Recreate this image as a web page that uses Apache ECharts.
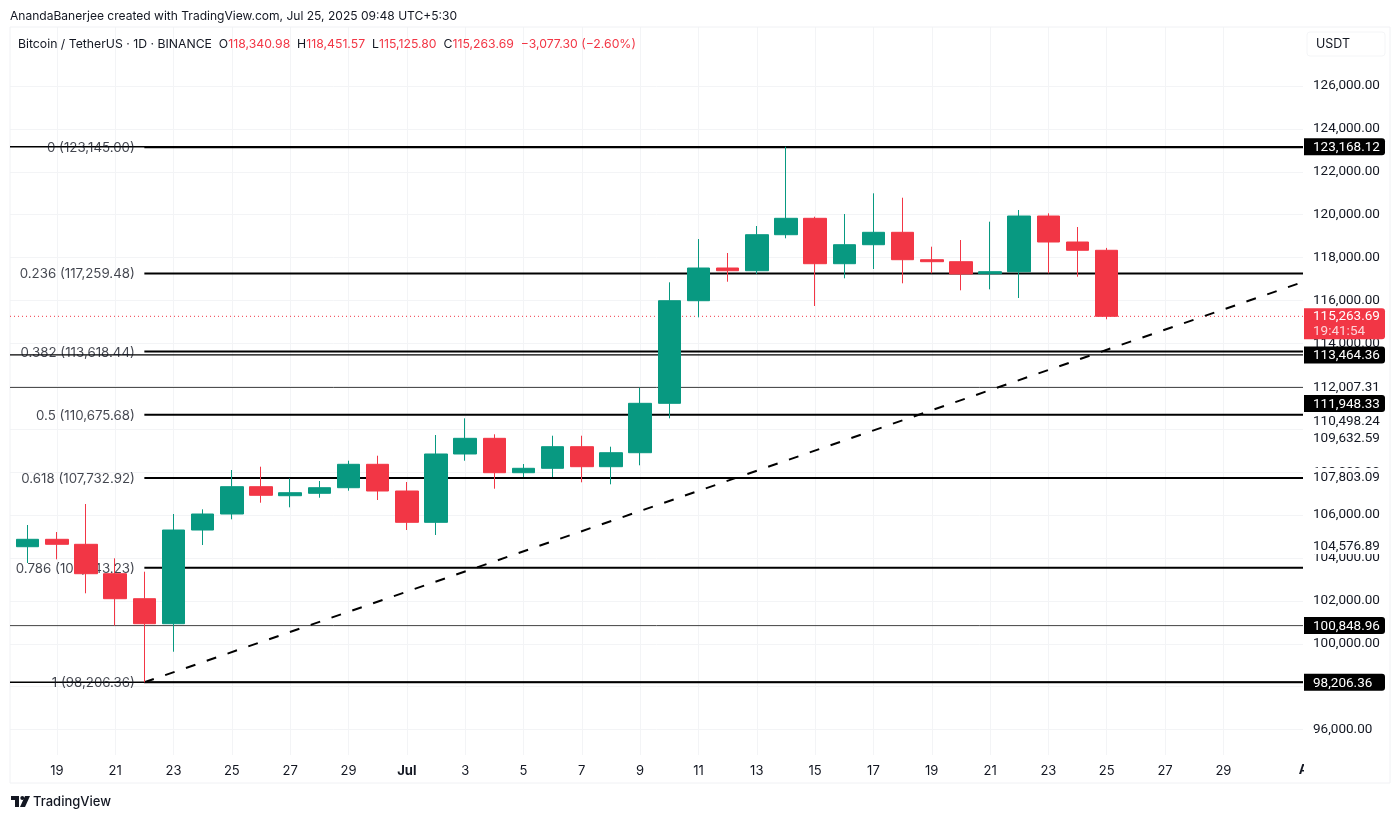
<!DOCTYPE html>
<html>
<head>
<meta charset="utf-8">
<title>BTCUSDT</title>
<style>
html,body{margin:0;padding:0;background:#fff}
#main{width:1400px;height:819px}
</style>
</head>
<body>
<div id="main"></div>
<script src="https://cdn.jsdelivr.net/npm/echarts@6/dist/echarts.min.js"></script>
<script>
// one candle a day, 18 Jun to 25 Jul 2025
const open = [104526,104871,104638,103268,102103,100938,105304,106050,107323,106903,107015,107276,108367,107122,105663,108847,109578,107975,108180,109187,108255,108907,111209,115991,117515,117389,119067,119831,117715,118601,119179,117902,117809,117249,117343,119938,118727,118340.98];
const close = [104871,104638,103268,102103,100938,105304,106050,107323,106922,107043,107276,108367,107122,105663,108847,109578,107975,108180,109187,108255,108907,111209,115991,117515,117389,119067,119831,117715,118601,119179,117902,117809,117235,117343,119938,118727,118341,115263.69];
const low = [103767,103939,102355,100845,98206,99633,104605,105803,106577,106363,106810,107136,106703,105304,105072,108534,107229,107775,107775,107528,107434,108320,110510,115217,116876,117235,118899,115744,117035,117468,116802,117268,116476,116522,116117,117268,117109,115125.80];
const high = [105538,105211,106516,103986,103361,106050,106269,108101,108255,107714,107588,108534,108767,107542,109732,110510,109765,108380,109699,109699,109187,111936,116848,118866,118214,119472,123168,119906,120032,120996,120791,118508,118820,119673,120218,120064,119426,118451.57];

// x axis, day number counted from 18 Jun
const xTickDays = [1,3,5,7,9,11,13,15,17,19,21,23,25,27,29,31,33,35,37,39,41];
const xTickLabels = ['19','21','23','25','27','29','Jul','3','5','7','9','11','13','15','17','19','21','23','25','27','29'];

// price scale
const gridPrices = [96000,98000,100000,102000,104000,106000,108000,110000,112000,114000,116000,118000,120000,122000,124000,126000];
const shownPrices = [96000,100000,102000,104000,106000,108000,114000,116000,118000,120000,122000,124000,126000];
const plainLevels = [112007.31,110498.24,109632.59,107803.09,104576.89];
const tagLevels = [123168.12,113464.36,111948.33,100848.96,98206.36];
const lastPrice = 115263.69;
const countdown = '19:41:54';

// fibonacci drawing
const fibRatios = ['0','0.236','0.382','0.5','0.618','0.786','1'];
const fibPrices = [123145.00,117259.48,113618.44,110675.68,107732.92,103543.23,98206.36];
const fibStartDay = 4;
const trendPrices = [98206.36,116863];

const GREEN = '#089981', RED = '#F23645', INK = '#131722', FRAME = '#f0f1f4';
const FONT = 'Inter, Roboto, sans-serif', PRICE_FONT = 'Roboto, sans-serif';
const X_MIN = -0.607, X_MAX = 43.73;

const fmt = v => v.toLocaleString('en-US',{minimumFractionDigits:2,maximumFractionDigits:2});

let series = [];
// thin full width lines
for (const p of tagLevels) {
    let strong = p===123168.12 || p===113464.36 || p===98206.36;
    series.push({
        type:'line', z:1, silent:true, symbol:'none',
        lineStyle:{color:strong?'#000':'#444',width:strong?1.4:1},
        data:[[X_MIN,p],[X_MAX,p]]
    });
}
series.push({
    type:'line', z:1, silent:true, symbol:'none',
    lineStyle:{color:RED,width:1,type:[1,3]},
    data:[[X_MIN,lastPrice],[X_MAX,lastPrice]]
});
// fib levels
for (const p of fibPrices) {
    series.push({
        type:'line', z:2, silent:true, symbol:'none',
        lineStyle:{color:'#000',width:2},
        data:[[fibStartDay,p],[X_MAX,p]]
    });
}
// their labels, left of the start point and under the candles
series.push({
    type:'scatter', z:2, silent:true, symbolSize:1,
    itemStyle:{color:'transparent'},
    label:{
        show:true, position:'left', distance:9, offset:[0,1],
        color:INK, fontFamily:FONT, fontSize:13.3,
        formatter:o=>fibRatios[o.dataIndex]+' ('+fmt(fibPrices[o.dataIndex])+')'
    },
    data:fibPrices.map(p=>[fibStartDay,p])
});
series.push({
    type:'line', z:2, silent:true, symbol:'none',
    lineStyle:{color:'#000',width:2,type:[10,12]},
    data:[[fibStartDay,trendPrices[0]],[X_MAX,trendPrices[1]]]
});
series.push({
    type:'candlestick', z:5, barWidth:23,
    itemStyle:{color:GREEN,color0:RED,borderColor:GREEN,borderColor0:RED,borderWidth:1},
    data:open.map((o,i)=>[i,o,close[i],low[i],high[i]])
});

let option = {
    animation:false,
    backgroundColor:'#fff',
    grid:{left:10,right:97,top:27,bottom:64},
    xAxis:{
        type:'value', min:X_MIN, max:X_MAX,
        axisLine:{show:false},
        axisTick:{show:false,customValues:xTickDays},
        splitLine:{show:true,lineStyle:{color:'#f3f4f6',width:1}},
        axisLabel:{
            customValues:xTickDays, margin:10, hideOverlap:false,
            color:INK, fontFamily:FONT, fontSize:13,
            formatter:v=>{
                let s=xTickLabels[xTickDays.indexOf(v)];
                return s==='Jul' ? '{m|Jul}' : s;
            },
            rich:{m:{fontWeight:'bold',fontFamily:FONT,fontSize:13,color:INK}}
        }
    },
    yAxis:{
        type:'value', position:'right', min:94819, max:128747, scale:true,
        axisLine:{show:false},
        axisTick:{show:false,customValues:gridPrices},
        splitLine:{show:true,lineStyle:{color:'#f3f4f6',width:1}},
        axisLabel:{
            customValues:shownPrices, margin:10, hideOverlap:false,
            color:INK, fontFamily:PRICE_FONT, fontSize:13.5, padding:[2,0,0,0],
            formatter:v=>fmt(v)
        }
    },
    series:series
};
let myChart = echarts.init(document.getElementById('main'));
myChart.setOption(option);

// tags on the price scale sit where the scale puts them
const py = v => myChart.convertToPixel({yAxisIndex:0},v);
const px = v => myChart.convertToPixel({xAxisIndex:0},v);
let g = [];
const TXT = {fontFamily:FONT,fontSize:12.05};
const PTXT = {fontFamily:PRICE_FONT,fontSize:13.5};

// frame around chart and price scale
g.push({type:'rect',z:1,shape:{x:10,y:27,width:1380,height:756},style:{fill:'none',stroke:FRAME,lineWidth:1}});

function priceTag(y,h,fill,z){
    g.push({type:'rect',z:z,shape:{x:1304,y:y-h/2,width:81,height:h,r:[0,3,3,0]},style:{fill:fill}});
}
for (const p of plainLevels) {
    // 110,498.24 is nudged down by the tag above it
    let y = py(p) + (p===110498.24 ? 2 : 0);
    priceTag(y,17,'#fff',60);
    g.push({type:'text',z:61,style:{...PTXT,x:1313,y:y+1,text:fmt(p),fill:INK,verticalAlign:'middle'}});
}
for (const p of tagLevels) {
    // TradingView pushes this tag below the 112,007.31 label
    let y = py(p) + (p===111948.33 ? 16 : 0);
    priceTag(y,17,'#000',70);
    g.push({type:'text',z:71,style:{...PTXT,x:1313,y:y+1,text:fmt(p),fill:'#fff',verticalAlign:'middle'}});
}
priceTag(py(lastPrice)+7.5,31,RED,80);
g.push({type:'text',z:81,style:{...PTXT,x:1313,y:py(lastPrice)+0.5,text:fmt(lastPrice),fill:'#fff',verticalAlign:'middle'}});
g.push({type:'text',z:81,style:{...PTXT,x:1313,y:py(lastPrice)+15,text:countdown,fill:'#fcd4d8',verticalAlign:'middle'}});

// USDT box
g.push({type:'rect',z:60,shape:{x:1307,y:32,width:78,height:24,r:3},style:{fill:'#fff',stroke:'#f4f5f7',lineWidth:1}});
g.push({type:'text',z:61,style:{...TXT,fontSize:12.5,x:1316,y:44,text:'USDT',fill:INK,verticalAlign:'middle'}});

// month label cut by the scale edge
g.push({type:'text',z:20,style:{fontFamily:FONT,fontSize:13,fontWeight:'bold',x:px(44)+1,y:770,text:'Aug',fill:INK,align:'center',verticalAlign:'middle'}});
g.push({type:'rect',z:21,shape:{x:1304,y:760,width:70,height:20},style:{fill:'#fff'}});

// header
g.push({type:'text',z:60,style:{...TXT,x:10,y:16,text:'AnandaBanerjee created with TradingView.com, Jul 25, 2025 09:48 UTC+5:30',fill:INK,verticalAlign:'middle'}});
const LEG = {fontFamily:FONT,fontSize:12.25};
g.push({type:'text',z:60,style:{x:18,y:44,verticalAlign:'middle',
    text:'{k|Bitcoin / TetherUS · 1D · BINANCE  O}{r|118,340.98}{k|  H}{r|118,451.57}{k|  L}{r|115,125.80}{k|  C}{r|115,263.69}{r|  −3,077.30 (−2.60%)}',
    rich:{k:{...LEG,fill:INK},r:{...LEG,fill:RED}}}});

// logo
g.push({type:'polygon',z:60,shape:{points:[[11,796],[19,796],[19,807],[15,807],[15,800],[11,800]]},style:{fill:INK}});
g.push({type:'circle',z:60,shape:{cx:22.3,cy:798,r:2},style:{fill:INK}});
g.push({type:'polygon',z:60,shape:{points:[[25,796],[30,796],[25,807],[20,807]]},style:{fill:INK}});
g.push({type:'text',z:60,style:{x:33,y:802,text:'TradingView',fill:INK,fontFamily:FONT,fontSize:13,fontWeight:500,verticalAlign:'middle'}});

myChart.setOption({graphic:g});
</script>
</body>
</html>
